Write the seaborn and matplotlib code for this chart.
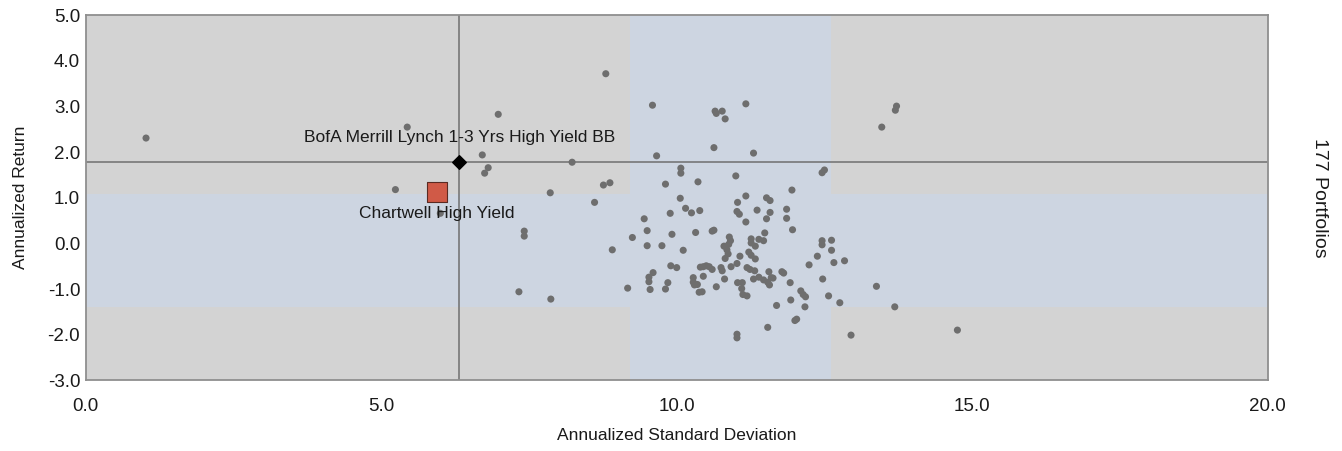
import matplotlib
matplotlib.use("Agg")
import matplotlib.pyplot as plt
import seaborn as sns
import pandas as pd
import numpy as np

# peer portfolios: annualized std dev (x) and annualized return (y)
peer_std = [
    1.02, 5.44, 5.24, 8.80, 6.98, 6.71, 6.81, 6.75, 8.23, 8.76,
    8.87, 7.86, 8.61, 7.42, 7.42, 8.91, 7.33, 7.87, 9.17, 13.72,
    13.70, 13.47, 13.69, 14.75, 13.38, 12.95, 12.84, 12.66, 12.62, 12.62,
    12.46, 12.46, 12.38, 12.24, 12.47, 12.57, 12.76, 12.46, 12.50, 11.95,
    11.96, 11.86, 11.86, 11.52, 11.58, 11.58, 11.52, 11.49, 11.36, 11.17,
    11.03, 11.02, 11.06, 11.17, 11.00, 11.30, 11.17, 10.65, 10.77, 10.67,
    10.82, 10.63, 9.59, 9.66, 10.07, 10.07, 9.81, 10.36, 10.06, 10.15,
    10.25, 10.39, 9.89, 9.45, 9.50, 9.92, 10.32, 10.60, 10.63, 9.25,
    9.50, 9.75, 10.11, 10.89, 10.91, 10.88, 10.80, 10.85, 10.87, 11.26,
    11.26, 11.39, 11.47, 11.22, 11.26, 11.33, 11.33, 10.82, 11.07, 10.92,
    11.02, 10.75, 10.77, 10.81, 10.67, 10.60, 10.55, 10.50, 10.45, 10.40,
    10.45, 10.28, 10.28, 10.30, 10.35, 10.38, 10.43, 9.90, 10.00, 9.85,
    9.81, 9.60, 9.53, 9.53, 9.55, 11.03, 11.11, 11.10, 11.12, 11.19,
    11.02, 11.02, 11.19, 11.24, 11.32, 11.30, 11.39, 11.47, 11.56, 11.60,
    11.63, 11.54, 11.57, 11.78, 11.81, 11.92, 12.10, 12.14, 12.18, 11.93,
    12.17, 11.69, 11.54, 12.03, 12.00, 6.00,
]
peer_ret = [
    2.31, 2.55, 1.18, 3.72, 2.83, 1.94, 1.66, 1.54, 1.78, 1.28,
    1.33, 1.11, 0.90, 0.27, 0.16, -0.14, -1.06, -1.22, -0.98, 3.01,
    2.92, 2.55, -1.39, -1.90, -0.94, -2.01, -0.38, -0.42, 0.07, -0.15,
    0.06, -0.03, -0.28, -0.47, -0.78, -1.15, -1.30, 1.55, 1.61, 1.17,
    0.30, 0.75, 0.55, 1.00, 0.94, 0.68, 0.54, 0.23, 0.73, 1.04,
    0.90, 0.70, 0.64, 0.47, 1.48, 1.98, 3.06, 2.90, 2.90, 2.85,
    2.73, 2.10, 3.03, 1.92, 1.65, 1.54, 1.30, 1.35, 0.99, 0.77,
    0.67, 0.72, 0.66, 0.54, 0.28, 0.20, 0.24, 0.27, 0.29, 0.13,
    -0.05, -0.05, -0.15, 0.14, 0.06, -0.02, -0.06, -0.14, -0.23, 0.10,
    0.01, 0.09, 0.06, -0.19, -0.26, -0.34, -0.06, -0.33, -0.28, -0.51,
    -0.44, -0.53, -0.60, -0.78, -0.95, -0.57, -0.51, -0.49, -0.51, -0.52,
    -0.72, -0.75, -0.85, -0.91, -0.90, -1.07, -1.06, -0.49, -0.53, -0.86,
    -1.00, -0.64, -0.74, -0.84, -1.01, -0.86, -0.86, -0.99, -1.12, -1.15,
    -1.99, -2.07, -0.53, -0.57, -0.60, -0.78, -0.74, -0.80, -0.62, -0.75,
    -0.76, -0.85, -0.91, -0.62, -0.65, -0.86, -1.04, -1.12, -1.17, -1.24,
    -1.39, -1.36, -1.84, -1.66, -1.69, 0.66,
]

# highlighted portfolio and benchmark
fund_name = "Chartwell High Yield"
fund_std, fund_ret = 5.94, 1.13
bench_name = "BofA Merrill Lynch 1-3 Yrs High Yield BB"
bench_std, bench_ret = 6.32, 1.785

# middle ranges of the peer group (shaded bands)
std_band = [9.21, 12.61]
ret_band = [-1.39, 1.08]

n_portfolios = 177
x_ticks = [0.0, 5.0, 10.0, 15.0, 20.0]
y_ticks = [-3.0, -2.0, -1.0, 0.0, 1.0, 2.0, 3.0, 4.0, 5.0]

sns.set_style("white")
plt.rcParams['font.family'] = ['Liberation Sans', 'DejaVu Sans']

fig = plt.figure(figsize=(13.42, 4.51), dpi=100)
ax = fig.add_axes([0.0639, 0.1568, 0.8807, 0.8092])

bg_gray = "#d3d3d3"
band_blue = "#cdd5e1"
ax.set_facecolor(bg_gray)
ax.axvspan(std_band[0], std_band[1], color=band_blue, lw=0, zorder=0)
ax.axhspan(ret_band[0], ret_band[1], color=band_blue, lw=0, zorder=0)

# crosshair at the benchmark
ax.axvline(bench_std, color="#6f6f6f", lw=1.1, zorder=1)
ax.axhline(bench_ret, color="#6f6f6f", lw=1.1, zorder=1)

df = pd.DataFrame({"std": peer_std, "ret": peer_ret})
sns.scatterplot(data=df, x="std", y="ret", ax=ax, color="#6e6e6e",
                s=26, edgecolor="none", zorder=2, legend=False)

ax.scatter([fund_std], [fund_ret], marker="s", s=190, color="#d05a47",
           edgecolor="#5a2a22", linewidth=0.8, zorder=4)
ax.scatter([bench_std], [bench_ret], marker="D", s=48, color="black",
           edgecolor="black", zorder=4)

ax.text(bench_std, bench_ret + 0.38, bench_name, ha="center", va="bottom",
        fontsize=12.5, color="#1a1a1a", zorder=5)
ax.text(fund_std, fund_ret - 0.3, fund_name, ha="center", va="top",
        fontsize=12.5, color="#1a1a1a", zorder=5)

ax.set_xlim(0, 20)
ax.set_ylim(-3, 5)
ax.set_xticks(x_ticks)
ax.set_yticks(y_ticks)
ax.set_xticklabels([f"{t:.1f}" for t in x_ticks])
ax.set_yticklabels([f"{t:.1f}" for t in y_ticks])
ax.tick_params(axis="both", length=0, labelsize=13.5, colors="#1a1a1a")
ax.tick_params(axis="x", pad=13)
ax.tick_params(axis="y", pad=4)

for side in ["top", "bottom", "left", "right"]:
    ax.spines[side].set_visible(True)
    ax.spines[side].set_color("#8f8f8f")
    ax.spines[side].set_linewidth(1.3)

ax.set_xlabel("Annualized Standard Deviation", fontsize=12.5, color="#1a1a1a", labelpad=9)
ax.set_ylabel("Annualized Return", fontsize=12.5, color="#1a1a1a", labelpad=14)

fig.text(0.983, 0.1568 + 0.8092 / 2, f"{n_portfolios} Portfolios",
         rotation=-90, ha="center", va="center", fontsize=14, color="#1a1a1a")

fig.savefig("out.png", dpi=100)
